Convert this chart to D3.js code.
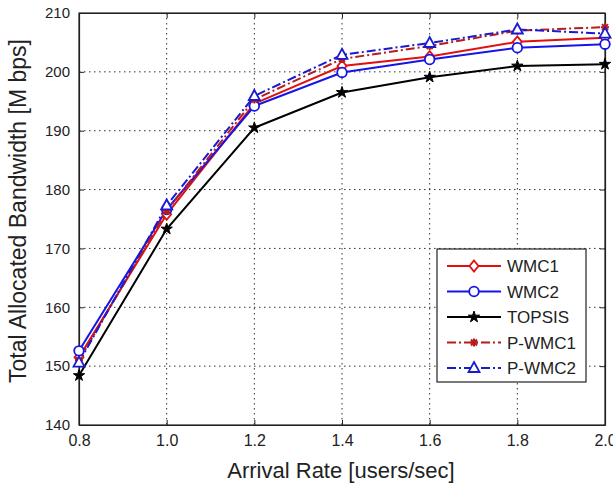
<!DOCTYPE html>
<html>
<head>
<meta charset="utf-8">
<script src="https://cdn.jsdelivr.net/npm/d3@7"></script>
<style>
  body { margin: 0; background: #fff; }
  svg text { font-family: "Liberation Sans", Arial, sans-serif; fill: #222; }
</style>
</head>
<body>
<div id="chart"></div>
<script>
// data
const arrivalRates = [0.8, 1.0, 1.2, 1.4, 1.6, 1.8, 2.0];
const wmc1   = [151.5, 175.8, 194.6, 201.0, 202.6, 205.1, 205.8];
const wmc2   = [152.6, 176.6, 194.2, 199.9, 202.1, 204.1, 204.7];
const topsis = [148.4, 173.3, 190.5, 196.5, 199.1, 201.0, 201.3];
const pwmc1  = [151.0, 176.4, 195.3, 202.2, 204.4, 207.0, 207.6];
const pwmc2  = [150.6, 177.3, 195.9, 202.9, 204.9, 207.2, 206.5];
const xTicks = [0.8, 1.0, 1.2, 1.4, 1.6, 1.8, 2.0];
const yTicks = [140, 150, 160, 170, 180, 190, 200, 210];

const series = [
    { name: "WMC1",   values: wmc1,   color: "#e01010", dash: null,        marker: "diamond" },
    { name: "WMC2",   values: wmc2,   color: "#1515e8", dash: null,        marker: "circle" },
    { name: "TOPSIS", values: topsis, color: "#000000", dash: null,        marker: "star" },
    { name: "P-WMC1", values: pwmc1,  color: "#b81c1c", dash: "9,3,2,3",   marker: "asterisk" },
    { name: "P-WMC2", values: pwmc2,  color: "#1a1ad0", dash: "9,3,2,3",   marker: "triangle" }
];

const width = 613, height = 488;
const margin = { top: 13, right: 8, bottom: 63, left: 79 };
const iw = width - margin.left - margin.right;
const ih = height - margin.top - margin.bottom;

const svg = d3.select("#chart").append("svg")
    .attr("width", width)
    .attr("height", height);

const g = svg.append("g").attr("transform", `translate(${margin.left},${margin.top})`);

const x = d3.scaleLinear().domain([0.8, 2.0]).range([0, iw]);
const y = d3.scaleLinear().domain([140, 210]).range([ih, 0]);

// dotted grid
g.append("g").selectAll("line")
    .data(xTicks.slice(1, -1))
    .enter().append("line")
    .attr("x1", d => x(d)).attr("x2", d => x(d))
    .attr("y1", 0).attr("y2", ih)
    .attr("stroke", "#333").attr("stroke-width", 1)
    .attr("stroke-dasharray", "1.5,3.5");

g.append("g").selectAll("line")
    .data(yTicks.slice(1, -1))
    .enter().append("line")
    .attr("x1", 0).attr("x2", iw)
    .attr("y1", d => y(d)).attr("y2", d => y(d))
    .attr("stroke", "#333").attr("stroke-width", 1)
    .attr("stroke-dasharray", "1.5,3.5");

// axes, ticks pointing inward like matlab
const xAxis = g.append("g")
    .attr("transform", `translate(0,${ih})`)
    .call(d3.axisBottom(x).tickValues(xTicks).tickFormat(d3.format(".1f")).tickSizeInner(-5).tickSizeOuter(0).tickPadding(10));
const yAxis = g.append("g")
    .call(d3.axisLeft(y).tickValues(yTicks).tickSizeInner(-5).tickSizeOuter(0).tickPadding(9));
g.append("g").attr("transform", `translate(${iw},0)`)
    .call(d3.axisRight(y).tickValues(yTicks).tickSizeInner(-5).tickSizeOuter(0).tickFormat(""));
g.append("g")
    .call(d3.axisTop(x).tickValues(xTicks).tickSizeInner(-5).tickSizeOuter(0).tickFormat(""));

g.selectAll(".domain").attr("stroke", "#222").attr("stroke-width", 1.2);
g.selectAll(".tick line").attr("stroke", "#222");
xAxis.selectAll("text").style("font-size", "16px").attr("fill", "#333");
yAxis.selectAll("text").style("font-size", "15px").attr("fill", "#333");

// plot box
g.append("rect")
    .attr("width", iw).attr("height", ih)
    .attr("fill", "none").attr("stroke", "#222").attr("stroke-width", 1.2);

// axis titles
svg.append("text")
    .attr("x", 341)
    .attr("y", 478)
    .attr("text-anchor", "middle")
    .style("font-size", "22px")
    .attr("fill", "#333")
    .text("Arrival Rate [users/sec]");

svg.append("text")
    .attr("transform", "translate(26,211) rotate(-90)")
    .attr("text-anchor", "middle")
    .style("font-size", "23px")
    .attr("fill", "#333")
    .text("Total Allocated Bandwidth [M bps]");

// marker drawing
function drawMarker(sel, type, color) {
    if (type === "diamond") {
        sel.append("path").attr("d", "M0,-5.5L4.5,0L0,5.5L-4.5,0Z")
            .attr("fill", "#fff").attr("stroke", color).attr("stroke-width", 1.8);
    } else if (type === "circle") {
        sel.append("circle").attr("r", 4.8)
            .attr("fill", "#fff").attr("stroke", color).attr("stroke-width", 1.8);
    } else if (type === "triangle") {
        sel.append("path").attr("d", "M0,-6L5.5,4L-5.5,4Z")
            .attr("fill", "#fff").attr("stroke", color).attr("stroke-width", 1.8);
    } else if (type === "star") {
        sel.append("path").attr("d", d3.symbol().type(d3.symbolStar).size(40)())
            .attr("fill", color).attr("stroke", color).attr("stroke-width", 1);
    } else if (type === "asterisk") {
        sel.append("path").attr("d", "M-4,0L4,0M0,-4L0,4M-3,-3L3,3M-3,3L3,-3")
            .attr("fill", "none").attr("stroke", color).attr("stroke-width", 2);
    }
}

const line = d3.line()
    .x((d, i) => x(arrivalRates[i]))
    .y(d => y(d));

series.forEach(s => {
    g.append("path")
        .datum(s.values)
        .attr("d", line)
        .attr("fill", "none")
        .attr("stroke", s.color)
        .attr("stroke-width", 2)
        .attr("stroke-dasharray", s.dash);
});

series.forEach(s => {
    g.append("g").selectAll("g")
        .data(s.values)
        .enter().append("g")
        .attr("transform", (d, i) => `translate(${x(arrivalRates[i])},${y(d)})`)
        .each(function () { drawMarker(d3.select(this), s.marker, s.color); });
});

// legend
const lg = svg.append("g").attr("transform", "translate(437,249)");
lg.append("rect")
    .attr("width", 149).attr("height", 133)
    .attr("fill", "#fff").attr("stroke", "#222").attr("stroke-width", 1.2);

series.forEach((s, i) => {
    const row = lg.append("g").attr("transform", `translate(0,${17 + i * 25.5})`);
    row.append("line")
        .attr("x1", 10).attr("x2", 64)
        .attr("stroke", s.color).attr("stroke-width", 2)
        .attr("stroke-dasharray", s.dash);
    drawMarker(row.append("g").attr("transform", "translate(37,0)"), s.marker, s.color);
    row.append("text")
        .attr("x", 70).attr("y", 6)
        .style("font-size", "17px")
        .attr("fill", "#333")
        .text(s.name);
});
</script>
</body>
</html>
